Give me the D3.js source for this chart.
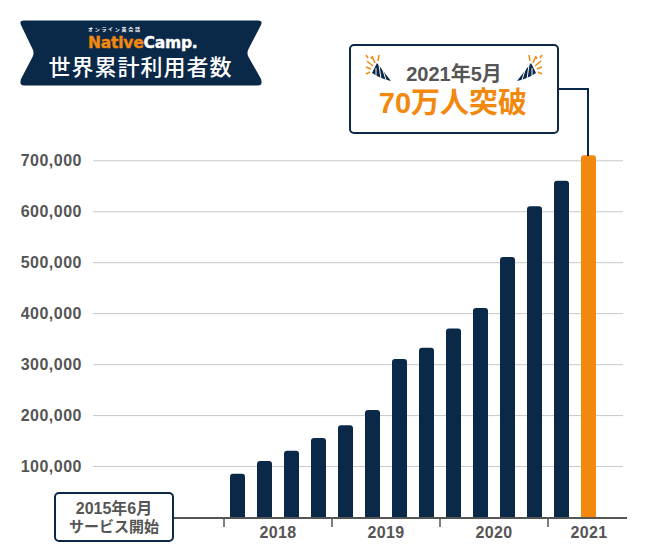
<!DOCTYPE html>
<html>
<head>
<meta charset="utf-8">
<script src="https://cdn.jsdelivr.net/npm/d3@7"></script>
<style>
html, body { margin: 0; padding: 0; background: #fff; }
text { font-family: "Liberation Sans", "Noto Sans CJK JP", sans-serif; font-weight: 700; }
</style>
</head>
<body>
<script>
var periods = ["2018-1","2018-2","2018-3","2018-4","2019-1","2019-2","2019-3","2019-4","2020-1","2020-2","2020-3","2020-4","2021-1","2021-2"];
var users = [85000,110000,130000,155000,180000,210000,310000,332000,370000,410000,510000,610000,660000,710000];
var yTicks = [100000,200000,300000,400000,500000,600000,700000];
var yearLabels = ["2018","2019","2020","2021"];
var yearStarts = ["2018-1","2019-1","2020-1","2021-1"];
var highlight = "2021-2";

var navy = "#0a2847", orange = "#f2880e", grey = "#555555";
var width = 650, height = 554;

var svg = d3.select("body").append("svg")
  .attr("width", width)
  .attr("height", height)
  .style("display", "block");

var x = d3.scaleBand().domain(periods).range([224, 602]).paddingInner(12 / 27).paddingOuter(6 / 27);
var y = d3.scaleLinear().domain([0, 700000]).range([517, 160.3]);
var tickX = function(p) { return x(p) - 6; };

// gridlines + left labels
var yAxis = svg.append("g")
  .attr("transform", "translate(93,0)")
  .call(d3.axisLeft(y).tickValues(yTicks).tickSize(-530).tickPadding(11).tickFormat(d3.format(",")));
yAxis.select(".domain").remove();
yAxis.selectAll("line").attr("stroke", "#c8c8c8").attr("stroke-width", 1);
yAxis.selectAll("text").attr("fill", grey).style("font-size", "16px").style("letter-spacing", "0.5px")
  .style("font-family", '"Liberation Sans", sans-serif').style("font-weight", 700);

// bars with rounded tops
function barPath(d, i) {
  var l = x(periods[i]), r = l + x.bandwidth(), t = y(d), b = y(0), c = 3;
  return "M" + l + "," + b + "V" + (t + c) + "Q" + l + "," + t + " " + (l + c) + "," + t +
    "H" + (r - c) + "Q" + r + "," + t + " " + r + "," + (t + c) + "V" + b + "Z";
}
svg.append("g").selectAll("path").data(users).enter().append("path")
  .attr("d", barPath)
  .attr("fill", function(d, i) { return periods[i] === highlight ? orange : navy; });

// baseline and year ticks
svg.append("line").attr("x1", 170).attr("x2", 627).attr("y1", y(0) + 1).attr("y2", y(0) + 1)
  .attr("stroke", grey).attr("stroke-width", 2);
svg.append("g").selectAll("line").data(yearStarts).enter().append("line")
  .attr("x1", tickX).attr("x2", tickX)
  .attr("y1", y(0) + 1).attr("y2", y(0) + 10)
  .attr("stroke", grey).attr("stroke-width", 1.5);
svg.append("g").selectAll("text").data(yearLabels).enter().append("text")
  .attr("x", function(d, i) {
    var next = i < yearStarts.length - 1 ? tickX(yearStarts[i + 1]) : 630;
    return (tickX(yearStarts[i]) + next) / 2;
  })
  .attr("y", 537.5)
  .attr("text-anchor", "middle")
  .attr("fill", grey)
  .style("font-size", "16px")
  .style("letter-spacing", "0.4px")
  .text(function(d) { return d; });

// start note
svg.append("rect").attr("x", 55).attr("y", 493).attr("width", 118).attr("height", 48).attr("rx", 4)
  .attr("fill", "#fff").attr("stroke", navy).attr("stroke-width", 2);
svg.append("text").attr("x", 114).attr("y", 514).attr("text-anchor", "middle").attr("fill", grey)
  .style("font-size", "16px").text("2015年6月");
svg.append("text").attr("x", 114).attr("y", 532).attr("text-anchor", "middle").attr("fill", grey)
  .style("font-size", "15px").text("サービス開始");

// title ribbon
svg.append("path")
  .attr("d", "M24,20.5H258Q263,20.5 261,25L248,50Q247,53 248,56L261,79Q263,85.5 258,85.5H24Q19,85.5 21,79L33,56Q34,53 33,50L21,25Q19,20.5 24,20.5Z")
  .attr("fill", navy);
svg.append("text").attr("x", 88).attr("y", 31).attr("fill", "#fff")
  .style("font-size", "5px").style("letter-spacing", "1.7px").text("オンライン英会話");
var logo = svg.append("text").attr("x", 88).attr("y", 47.5).style("font-size", "15.5px").style("letter-spacing", "-0.2px")
  .style("font-family", '"DejaVu Sans", sans-serif').style("font-weight", 700);
logo.append("tspan").attr("fill", orange).attr("stroke", orange).attr("stroke-width", 0.4).text("Native");
logo.append("tspan").attr("fill", "#fff").attr("stroke", "#fff").attr("stroke-width", 0.4).text("Camp.");
svg.append("text").attr("x", 140.5).attr("y", 75).attr("text-anchor", "middle").attr("fill", "#fff")
  .style("font-size", "22px").style("font-weight", 500).style("letter-spacing", "1px").text("世界累計利用者数");

// callout
svg.append("path").attr("d", "M558,89H588V156").attr("fill", "none").attr("stroke", navy).attr("stroke-width", 2);
svg.append("rect").attr("x", 350).attr("y", 45).attr("width", 208).attr("height", 88).attr("rx", 4)
  .attr("fill", "#fff").attr("stroke", navy).attr("stroke-width", 2);
svg.append("text").attr("x", 454).attr("y", 81).attr("text-anchor", "middle").attr("fill", grey)
  .style("font-size", "20px").text("2021年5月");
svg.append("text").attr("x", 453).attr("y", 113).attr("text-anchor", "middle").attr("fill", orange)
  .style("font-size", "29px").text("70万人突破");

// party poppers, right one mirrored
function popper(tx, flip) {
  var g = svg.append("g").attr("transform", "translate(" + tx + ",80)" + (flip ? " scale(-1,1)" : ""));
  g.append("path").attr("d", "M-2,-17L-7,-7Q2,-1 12,1Z").attr("fill", navy);
  g.selectAll("line.stripe").data([[-3,-12,-3,-3],[0,-15,2,-1],[3,-13,7,0]]).enter().append("line")
    .attr("x1", function(d) { return d[0]; }).attr("y1", function(d) { return d[1]; })
    .attr("x2", function(d) { return d[2]; }).attr("y2", function(d) { return d[3]; })
    .attr("stroke", "#fff").attr("stroke-width", 1);
  g.selectAll("line.spark").data([[-6,-14,-12,-19],[-8,-11,-13,-13],[-4,-17,-7,-24],[-1,-19,0,-25],[-11,-22,-13,-25],[-9,-8,-13,-6],[-7,-21,-8,-23]]).enter().append("line")
    .attr("x1", function(d) { return d[0]; }).attr("y1", function(d) { return d[1]; })
    .attr("x2", function(d) { return d[2]; }).attr("y2", function(d) { return d[3]; })
    .attr("stroke", orange).attr("stroke-width", 1.5);
}
popper(379, false);
popper(529, true);
</script>
</body>
</html>
